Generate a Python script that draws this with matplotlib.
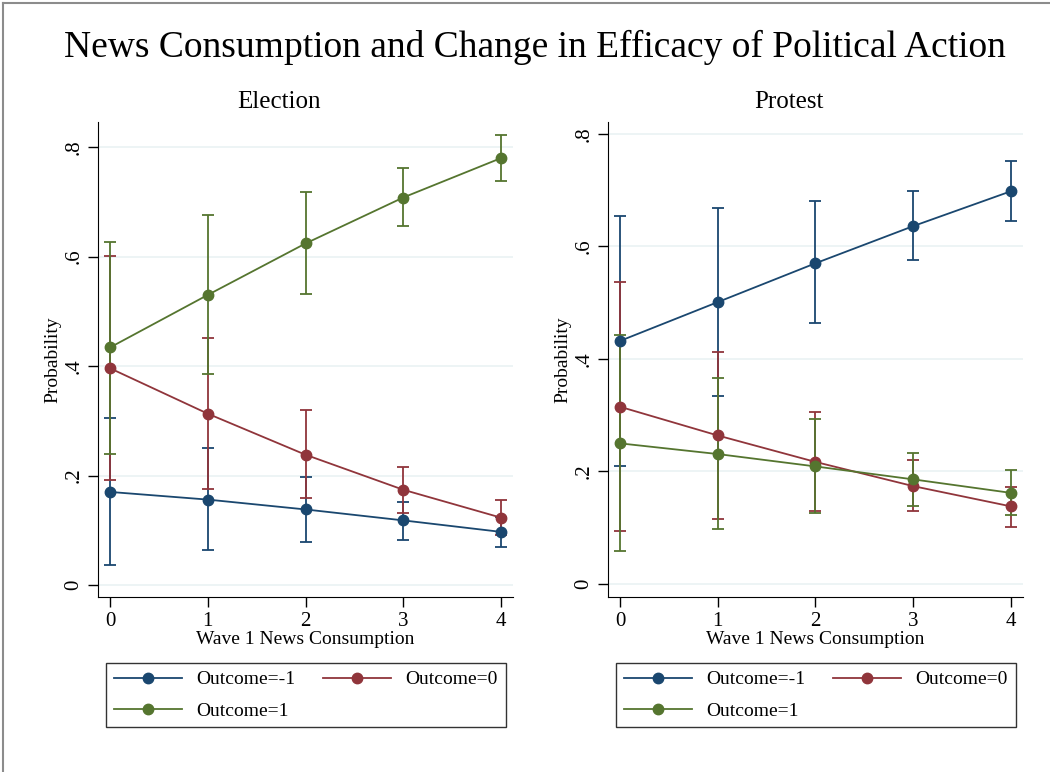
import numpy as np
import matplotlib
matplotlib.use("Agg")
import matplotlib.pyplot as plt
from matplotlib.lines import Line2D

plt.rcParams["font.family"] = ["Liberation Serif", "DejaVu Serif"]

news = [0, 1, 2, 3, 4]
labels = ["Outcome=-1", "Outcome=0", "Outcome=1"]
colors = ["#1a476f", "#90353b", "#55752f"]

# Election panel: predicted probability, lower and upper CI
elec_p = [[0.170, 0.156, 0.138, 0.118, 0.097],
          [0.396, 0.313, 0.238, 0.174, 0.123],
          [0.434, 0.530, 0.624, 0.708, 0.780]]
elec_lo = [[0.036, 0.063, 0.079, 0.083, 0.069],
           [0.191, 0.175, 0.158, 0.132, 0.091],
           [0.240, 0.386, 0.531, 0.656, 0.738]]
elec_hi = [[0.306, 0.251, 0.198, 0.152, 0.125],
           [0.601, 0.452, 0.319, 0.216, 0.155],
           [0.627, 0.676, 0.718, 0.762, 0.823]]

# Protest panel
prot_p = [[0.432, 0.501, 0.570, 0.636, 0.698],
          [0.315, 0.264, 0.217, 0.174, 0.138],
          [0.250, 0.231, 0.209, 0.186, 0.162]]
prot_lo = [[0.209, 0.335, 0.463, 0.576, 0.645],
           [0.094, 0.116, 0.129, 0.129, 0.102],
           [0.058, 0.097, 0.126, 0.139, 0.122]]
prot_hi = [[0.654, 0.668, 0.680, 0.698, 0.751],
           [0.536, 0.412, 0.305, 0.220, 0.173],
           [0.443, 0.366, 0.294, 0.232, 0.203]]

W, H = 1050, 772
fig = plt.figure(figsize=(W / 100, H / 100), dpi=100)

panels = [
    ("Election", elec_p, elec_lo, elec_hi, 98, 278.5, (-0.022, 0.846)),
    ("Protest", prot_p, prot_lo, prot_hi, 608, 789, (-0.023, 0.821)),
]

for title, p, lo, hi, xpix, tpix, ylim in panels:
    ax = fig.add_axes([xpix / W, 1 - 597 / H, 415 / W, 475 / H])
    for k in range(3):
        pk = np.array(p[k])
        yerr = [pk - np.array(lo[k]), np.array(hi[k]) - pk]
        ax.errorbar(news, pk, yerr=yerr, color=colors[k], lw=1.3, elinewidth=1.3,
                    capsize=4, capthick=1.3, marker="o", ms=7.5)
    ax.set_xlim(-0.123, 4.123)
    ax.set_ylim(*ylim)
    ax.set_xticks(news)
    ax.set_yticks([0, 0.2, 0.4, 0.6, 0.8])
    ax.set_yticklabels(["0", ".2", ".4", ".6", ".8"], rotation=90, va="center")
    ax.grid(axis="y", color="#eaf2f3", lw=1.2)
    ax.set_axisbelow(True)
    for s in ["top", "right"]:
        ax.spines[s].set_visible(False)
    ax.tick_params(labelsize=15, length=7, width=1)
    ax.set_xlabel("Wave 1 News Consumption", fontsize=14, labelpad=0)
    ax.set_ylabel("Probability", fontsize=14, labelpad=2)
    fig.text(tpix / W, 1 - 102 / H, title, fontsize=18, ha="center", va="center")

    handles = [Line2D([], [], color=colors[k], lw=1.3, marker="o", ms=7.5) for k in range(3)]
    order = [0, 2, 1]
    lg = fig.legend([handles[i] for i in order], [labels[i] for i in order],
                    loc="upper left", ncol=2,
                    bbox_to_anchor=((xpix + 8) / W, 1 - 663 / H),
                    fontsize=14, frameon=True, fancybox=False, edgecolor="black",
                    handlelength=3.5, handletextpad=0.75, columnspacing=1.4,
                    labelspacing=0.7, borderpad=0.4, borderaxespad=0)
    lg.get_frame().set_linewidth(1.0)

fig.suptitle("News Consumption and Change in Efficacy of Political Action",
             fontsize=27, x=535 / W, y=1 - 47 / H, va="center")

fig.add_artist(Line2D([3 / W, 3 / W], [0, 1 - 3 / H], color="#8c8c8c", lw=1.5))
fig.add_artist(Line2D([3 / W, 1], [1 - 3 / H, 1 - 3 / H], color="#8c8c8c", lw=1.5))

fig.savefig("out.png", dpi=100)
